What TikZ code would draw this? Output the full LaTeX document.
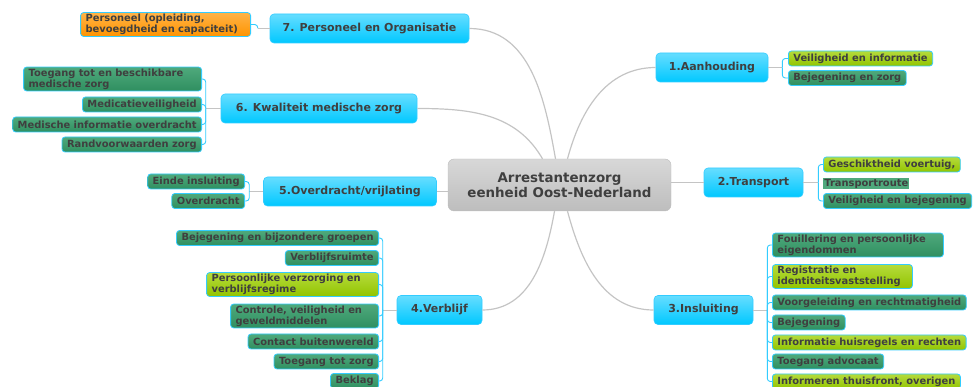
\documentclass[tikz,border=0pt]{standalone}
\usepackage{fontspec}
\setmainfont{DejaVu Sans}
\definecolor{ink}{HTML}{3F3F3F}
\definecolor{hubtop}{HTML}{D8D8D8}
\definecolor{hubbot}{HTML}{BDBDBD}
\definecolor{cyantop}{HTML}{66DDFF}
\definecolor{cyanbot}{HTML}{00C8FF}
\definecolor{cyanedge}{HTML}{33CCFF}
\definecolor{darktop}{HTML}{4FA97C}
\definecolor{darkbot}{HTML}{2F8F60}
\definecolor{limetop}{HTML}{B5DB3C}
\definecolor{limebot}{HTML}{92C400}
\definecolor{ambertop}{HTML}{FFB347}
\definecolor{amberbot}{HTML}{FF9400}
\definecolor{trunkgray}{HTML}{C4C4C4}
\begin{document}
\begin{tikzpicture}[x=1pt, y=-1pt,
    hub/.style={rounded corners=6pt, top color=hubtop, bottom color=hubbot, draw=hubbot, text=ink, font=\fontsize{13.4}{15}\selectfont\bfseries, minimum width=223pt, minimum height=52pt, align=center},
    topic/.style={rounded corners=4pt, top color=cyantop, bottom color=cyanbot, draw=cyanedge, line width=0.6pt, text=ink, font=\fontsize{11}{12}\selectfont\bfseries, minimum height=29pt},
    leaf/.style={rounded corners=3pt, draw=cyanedge, line width=0.8pt, text=ink, font=\fontsize{9.9}{11.2}\selectfont\bfseries, minimum height=15pt, inner xsep=5pt, inner ysep=1.5pt, align=left},
    dark/.style={leaf, top color=darktop, bottom color=darkbot},
    lime/.style={leaf, top color=limetop, bottom color=limebot},
    amber/.style={leaf, top color=ambertop, bottom color=amberbot},
    trunk/.style={draw=trunkgray, line width=1.2pt},
    stub/.style={draw=trunkgray, line width=0.8pt},
    twig/.style={draw=cyanedge, line width=0.9pt, rounded corners=3pt}]
    \useasboundingbox (0,0) rectangle (975,387);

    \node[hub] (hub) at (559.5,185) {Arrestantenzorg\\eenheid Oost-Nederland};

    \node[topic, minimum width=112pt] (t1) at (712,67.5) {1.Aanhouding};
    \node[topic, minimum width=99pt] (t2) at (753.5,182.5) {2.Transport};
    \node[topic, minimum width=99pt] (t3) at (703.5,310) {3.Insluiting};
    \node[topic, minimum width=85pt] (t4) at (439.5,310) {4.Verblijf};
    \node[topic, minimum width=173pt] (t5) at (350,191.5) {5.Overdracht/vrijlating};
    \node[topic, minimum width=196pt] (t6) at (319,108.5) {6. Kwaliteit medische zorg};
    \node[topic, minimum width=199pt] (t7) at (369.5,28.5) {7. Personeel en Organisatie};

    \node[lime, anchor=west] (l11) at (788,58.5) {Veiligheid en informatie};
    \node[dark, anchor=west] (l12) at (788,78) {Bejegening en zorg};

    \node[lime, anchor=west] (l21) at (823,164.5) {Geschiktheid voertuig,};
    \node[leaf, draw=none, rounded corners=0pt, fill=darktop, minimum height=11pt, inner xsep=1pt, inner ysep=0pt, anchor=west] (l22) at (823,183.5) {Transportroute};
    \node[dark, anchor=west] (l23) at (823,201) {Veiligheid en bejegening};

    \node[dark, anchor=west, text width=161pt] (l31) at (772,245) {Fouillering en persoonlijke\\eigendommen};
    \node[lime, anchor=west, text width=130pt] (l32) at (772,276.5) {Registratie en\\identiteitsvaststelling};
    \node[dark, anchor=west] (l33) at (772,302.5) {Voorgeleiding en rechtmatigheid};
    \node[dark, anchor=west] (l34) at (772,322.5) {Bejegening};
    \node[lime, anchor=west] (l35) at (772,342.5) {Informatie huisregels en rechten};
    \node[dark, anchor=west] (l36) at (772,361.5) {Toegang advocaat};
    \node[lime, anchor=west] (l37) at (772,381.5) {Informeren thuisfront, overigen};

    \node[dark, anchor=east] (l41) at (379,238) {Bejegening en bijzondere groepen};
    \node[dark, anchor=east] (l42) at (379,258) {Verblijfsruimte};
    \node[lime, anchor=east, text width=162pt] (l43) at (379,284.5) {Persoonlijke verzorging en\\verblijfsregime};
    \node[dark, anchor=east, text width=138pt] (l44) at (379,316) {Controle, veiligheid en\\geweldmiddelen};
    \node[dark, anchor=east] (l45) at (379,341.5) {Contact buitenwereld};
    \node[dark, anchor=east] (l46) at (379,361.5) {Toegang tot zorg};
    \node[dark, anchor=east] (l47) at (379,381) {Beklag};

    \node[dark, anchor=east] (l51) at (245,181.5) {Einde insluiting};
    \node[dark, anchor=east] (l52) at (245,201) {Overdracht};

    \node[dark, anchor=east, text width=168pt] (l61) at (202,79) {Toegang tot en beschikbare\\medische zorg};
    \node[dark, anchor=east] (l62) at (202,104.5) {Medicatieveiligheid};
    \node[dark, anchor=east] (l63) at (202,124.5) {Medische informatie overdracht};
    \node[dark, anchor=east] (l64) at (202,144.5) {Randvoorwaarden zorg};

    \node[amber, anchor=east, text width=160pt] (l71) at (251,24.5) {Personeel (opleiding,\\bevoegdheid en capaciteit)};

    \draw[trunk] (t1.west) to[out=180, in=75] ([xshift=8pt]hub.north);
    \draw[trunk] (t2.west) -- (t2.west -| hub.east);
    \draw[trunk] (t3.west) to[out=180, in=-75] ([xshift=8pt]hub.south);
    \draw[trunk] (t4.east) to[out=0, in=-100] ([xshift=-5pt]hub.south);
    \draw[trunk] (t5.east) -- (t5.east -| hub.west);
    \draw[trunk] (t6.east) to[out=0, in=120] ([xshift=-17pt]hub.north);
    \draw[trunk] (t7.east) to[out=0, in=100] ([xshift=-4pt]hub.north);

    \draw[stub] (t1.east) -- ++(14,0);
    \draw[stub] (t2.east) -- ++(15,0);
    \draw[stub] (t3.east) -- ++(14,0);
    \draw[stub] (t4.west) -- ++(-14,0);
    \draw[stub] (t5.west) -- ++(-14,0);
    \draw[stub] (t6.west) -- ++(-15,0);
    \draw[stub] (t7.west) -- ++(-12,0);

    \foreach \k in {1,2} \draw[twig] ([xshift=14pt]t1.east) |- (l1\k.west);
    \foreach \k in {1,3} \draw[twig] ([xshift=15pt]t2.east) |- (l2\k.west);
    \foreach \k in {1,...,7} \draw[twig] ([xshift=14pt]t3.east) |- (l3\k.west);
    \foreach \k in {1,...,7} \draw[twig] ([xshift=-14pt]t4.west) |- (l4\k.east);
    \foreach \k in {1,2} \draw[twig] ([xshift=-14pt]t5.west) |- (l5\k.east);
    \foreach \k in {1,...,4} \draw[twig] ([xshift=-15pt]t6.west) |- (l6\k.east);
    \draw[twig] ([xshift=-12pt]t7.west) |- (l71.east);
\end{tikzpicture}
\end{document}
